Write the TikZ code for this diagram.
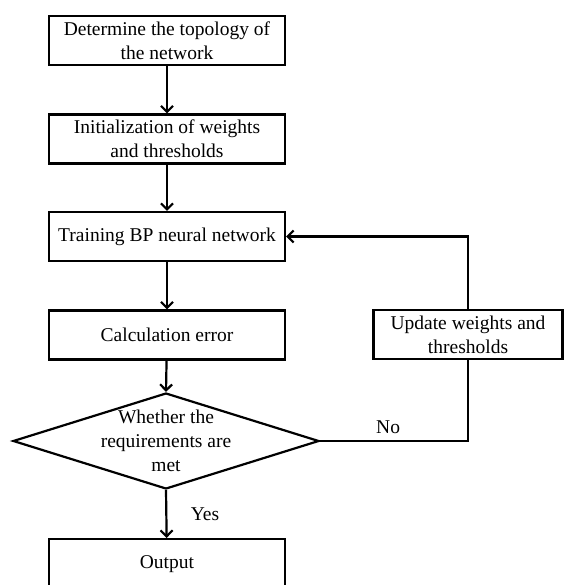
\documentclass[tikz,border=0pt]{standalone}
\usepackage{fontspec}
\setmainfont{Liberation Serif}
\usetikzlibrary{arrows.meta,shapes.geometric,positioning}

\begin{document}
\begin{tikzpicture}[x=1pt,y=-1pt,
  box/.style={rectangle,draw,line width=2.2pt,minimum width=236pt,minimum height=49pt,
              align=center,inner sep=2pt,font=\fontsize{19.5}{24}\selectfont},
  decision/.style={diamond,draw,line width=2.2pt,minimum width=306pt,minimum height=96pt,
                   inner sep=0pt},
  arr/.style={-{Straight Barb[length=6pt,width=12pt,line width=2.2pt]},line width=2.2pt},
  lbl/.style={font=\fontsize{19.5}{24}\selectfont}]
\useasboundingbox (0,0) rectangle (563,585);
\node[box]  (topo)   at (167,40.5) {Determine the topology of\\the network};
\node[box]  (init)   at (167,139)  {Initialization of weights\\and thresholds};
\node[box]  (train)  at (167,236.5) {Training BP neural network};
\node[box]  (calc)   at (167,335)  {Calculation error};
\node[decision,label={[lbl,align=center]center:Whether the\\requirements are\\met}] (check) at (166,441) {};
\node[box,minimum height=50pt] (out) at (167,564) {Output};
\node[box,minimum width=189pt] (update) at (468,334.5) {Update weights and\\thresholds};
\draw[arr] (topo) -- (init);
\draw[arr] (init) -- (train);
\draw[arr] (train) -- (calc);
\draw[arr] (calc) -- (check.north);
\draw[arr] (check.south) -- node[lbl,right=20pt]{Yes} (out);
\draw[line width=2.2pt] (check.east) -| node[lbl,above,pos=0.23,yshift=3pt]{No} (update.south);
\draw[arr] (update.north) |- (train.east);
\end{tikzpicture}
\end{document}
